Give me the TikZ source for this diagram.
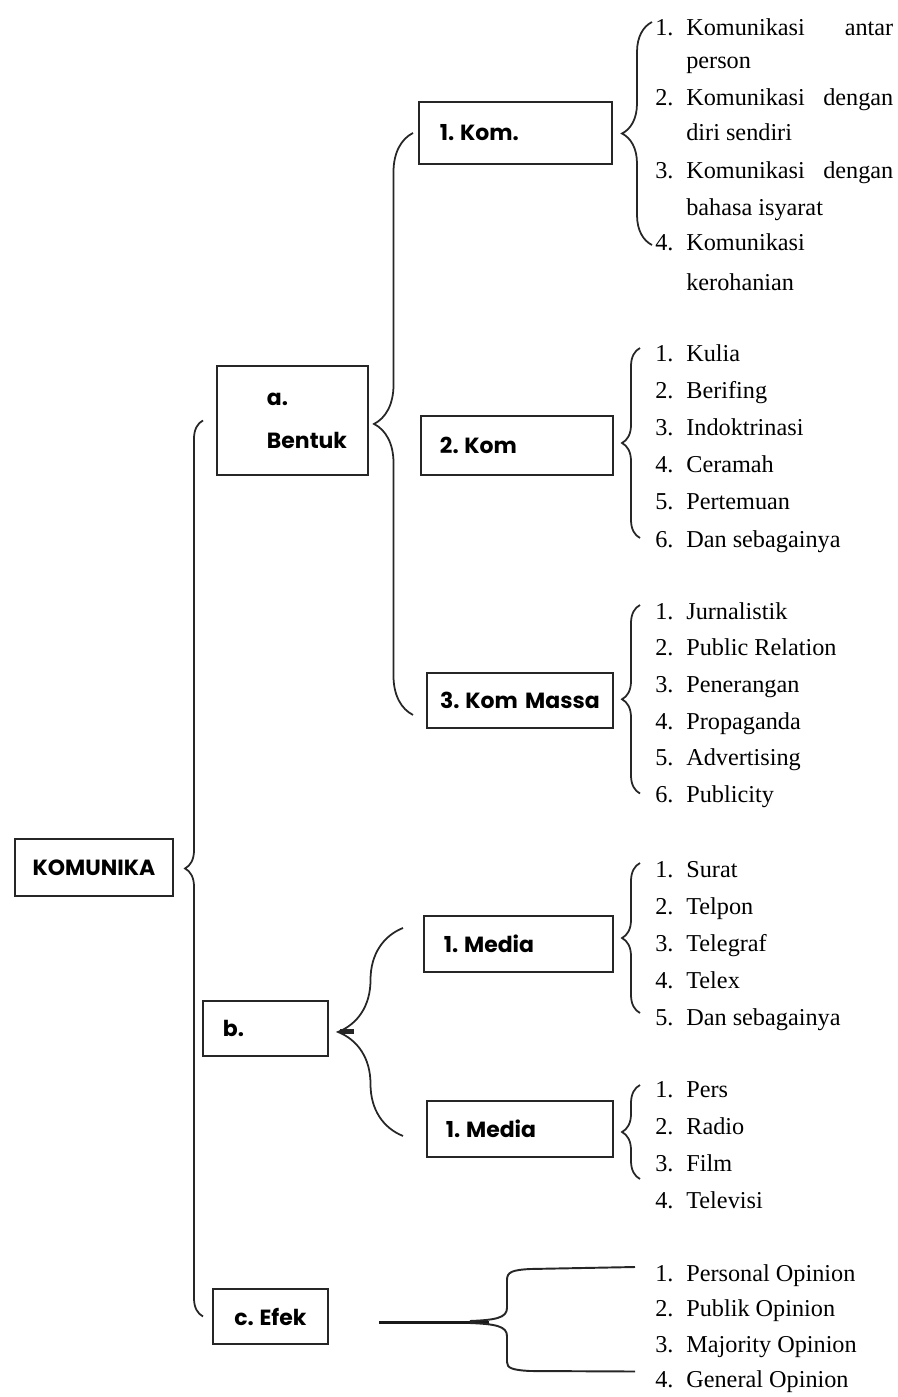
\documentclass[tikz,border=0pt]{standalone}
\usepackage{fontspec}
\setmainfont{Liberation Serif}
\newfontfamily\boxfont{Poppins}
\usetikzlibrary{calc,decorations.pathreplacing}
\def\nm#1{\makebox[0.62cm][l]{#1}}
\def\pad#1{\hspace*{#1}}
\def\sp{\hspace{0.26em}}

\begin{document}
\begin{tikzpicture}[x=0.02cm, y=-0.02cm,
  box/.style={draw=black!85, line width=1.1pt, anchor=north west, inner xsep=0pt, align=left,
    font=\boxfont\bfseries\fontsize{12.5}{15}\selectfont},
  item/.style={anchor=base west, inner sep=0pt, font=\fontsize{13.8}{16}\selectfont},
  curly/.style={decorate, draw=black!85, line width=1pt, decoration={brace, amplitude=#1}}]
\useasboundingbox (0,0) rectangle (897,1397);

% boxes
\node[box, align=center, text width=3.16cm, minimum height=1.14cm] (kom) at (14,838) {KOMUNIKA};
\node[box, text width=3.02cm, minimum height=2.18cm,
  font=\boxfont\bfseries\fontsize{12.5}{24.4}\selectfont] (bentuk) at (216,365) {\pad{1cm}a.\\\pad{1cm}Bentuk};
\node[box, text width=3.86cm, minimum height=1.24cm] (kom1) at (418,101) {\pad{0.42cm}1.\sp Kom.};
\node[box, text width=3.84cm, minimum height=1.18cm] (kom2) at (420,415) {\pad{0.38cm}2.\sp Kom};
\node[box, align=center, text width=3.72cm, minimum height=1.10cm] (kom3) at (426,672) {3.\sp Kom Massa};
\node[box, text width=2.50cm, minimum height=1.10cm] (bb) at (202,1000) {\pad{0.40cm}b.};
\node[box, text width=3.78cm, minimum height=1.12cm] (media1) at (423,915) {\pad{0.40cm}1.\sp Media};
\node[box, text width=3.72cm, minimum height=1.12cm] (media2) at (426,1100) {\pad{0.38cm}1.\sp Media};
\node[box, align=center, text width=2.30cm, minimum height=1.10cm] (efek) at (212,1288) {c.\sp Efek};

% lists
\node[item] (la1) at (655,35) {\nm{1.}\makebox[4.14cm][s]{Komunikasi antar}};
\node[item] (la2) at (655,68) {\nm{}person};
\node[item] (la3) at (655,105) {\nm{2.}\makebox[4.14cm][s]{Komunikasi dengan}};
\node[item] (la4) at (655,140) {\nm{}diri sendiri};
\node[item] (la5) at (655,178) {\nm{3.}\makebox[4.14cm][s]{Komunikasi dengan}};
\node[item] (la6) at (655,215) {\nm{}bahasa isyarat};
\node[item] (la7) at (655,250) {\nm{4.}Komunikasi};
\node[item] (la8) at (655,290) {\nm{}kerohanian};
\foreach \t [count=\i] in {Kulia, Berifing, Indoktrinasi, Ceramah, Pertemuan, Dan sebagainya}
  \node[item] (lb\i) at (655,{361+37.2*(\i-1)}) {\nm{\i.}\t};
\foreach \t [count=\i] in {Jurnalistik, Public Relation, Penerangan, Propaganda, Advertising, Publicity}
  \node[item] (lc\i) at (655,{619+36.7*(\i-1)}) {\nm{\i.}\t};
\foreach \t [count=\i] in {Surat, Telpon, Telegraf, Telex, Dan sebagainya}
  \node[item] (ld\i) at (655,{877+37*(\i-1)}) {\nm{\i.}\t};
\foreach \t [count=\i] in {Pers, Radio, Film, Televisi}
  \node[item] (le\i) at (655,{1097+37*(\i-1)}) {\nm{\i.}\t};
\foreach \t [count=\i] in {Personal Opinion, Publik Opinion, Majority Opinion, General Opinion}
  \node[item] (lf\i) at (655,{1281+35.5*(\i-1)}) {\nm{\i.}\t};

% braces
\draw[curly=0.36cm] ($(efek.west)+(-9,0)$) -- ($(bentuk.west)+(-13,0)$);
\draw[curly=0.78cm] ($(kom3.south west)+(-13,-14)$) -- ($(kom1.west)+(-5,0)$);
\draw[curly=1.3cm] ($(media2.west)+(-23,7)$) -- ($(media1.west)+(-20,-16)$);
\draw[line width=2.5pt, black!85] ($(bb.east)+(11,3)$) -- +(14,0);
\draw[curly=0.6cm] ($(la7.base west)+(-3,-5)$) -- ($(la1.base west)+(-3,-13)$);
\draw[curly=0.36cm] ($(lb6.base west)+(-15,-9)$) -- ($(lb1.base west)+(-15,-13)$);
\draw[curly=0.36cm] ($(lc6.base west)+(-15,-9)$) -- ($(lc1.base west)+(-15,-14)$);
\draw[curly=0.36cm] ($(ld5.base west)+(-15,-12)$) -- ($(ld1.base west)+(-15,-14)$);
\draw[curly=0.36cm] ($(le3.base west)+(-15,8)$) -- ($(le1.base west)+(-15,-12)$);

% efek fork
\coordinate (fu) at ($(lf1.base west)+(-20,-14)$);
\coordinate (fl) at ($(lf4.base west)+(-20,-16)$);
\draw[line width=2.2pt, black!90] ($(efek.east)+(50,6)$) -- +(110,0);
\draw[line width=1.1pt, black!85] (470,1321) .. controls (495,1320) and (507,1318) .. (507,1308)
  -- (507,1280) .. controls (507,1272) and (512,1270) .. (530,1269) -- (fu);
\draw[line width=1.1pt, black!85] (470,1323) .. controls (495,1324) and (507,1326) .. (507,1336)
  -- (507,1362) .. controls (507,1368) and (512,1370) .. (530,1371) -- (fl);
\end{tikzpicture}
\end{document}
